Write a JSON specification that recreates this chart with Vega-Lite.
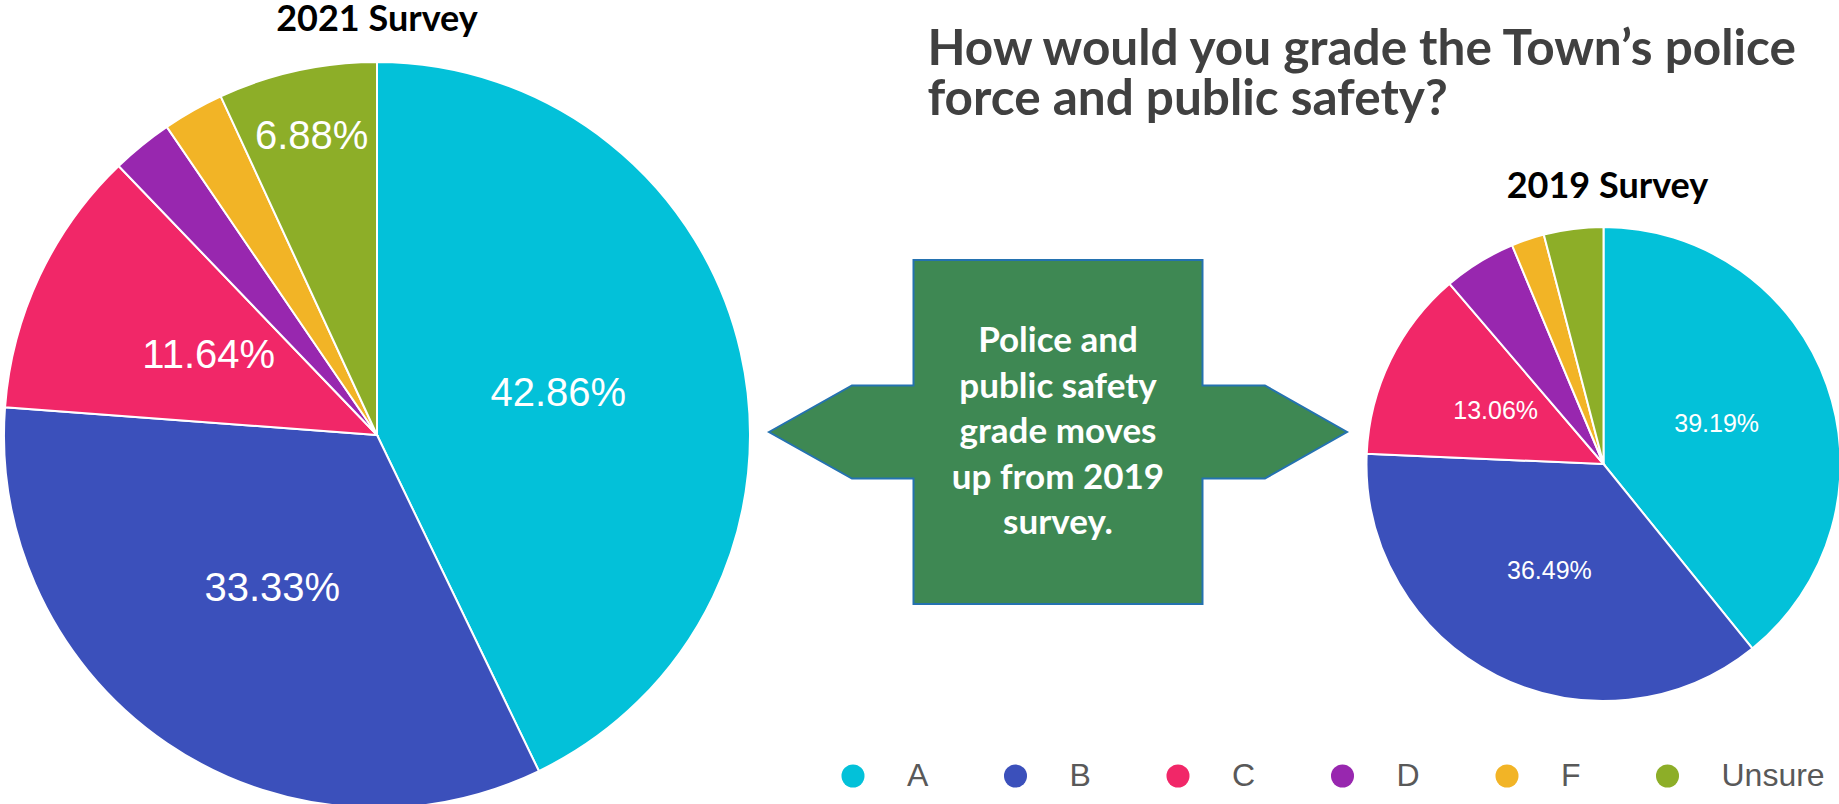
{
  "$schema": "https://vega.github.io/schema/vega-lite/v6.json",
  "padding": 0,
  "spacing": 0,
  "bounds": "full",
  "background": "white",
  "datasets": {
    "s2021": [
      {"grade": "A", "share": 0.4286},
      {"grade": "B", "share": 0.3333},
      {"grade": "C", "share": 0.1164},
      {"grade": "D", "share": 0.0265},
      {"grade": "F", "share": 0.0265},
      {"grade": "Unsure", "share": 0.0688}
    ],
    "s2019": [
      {"grade": "A", "share": 0.3919},
      {"grade": "B", "share": 0.3649},
      {"grade": "C", "share": 0.1306},
      {"grade": "D", "share": 0.0495},
      {"grade": "F", "share": 0.0225},
      {"grade": "Unsure", "share": 0.0405}
    ]
  },
  "config": {
    "view": {"stroke": null},
    "legend": {
      "symbolType": "circle",
      "symbolSize": 530,
      "symbolStrokeWidth": 0,
      "labelFontSize": 32,
      "labelFont": "Liberation Sans",
      "labelColor": "#595959",
      "labelOffset": 38,
      "columnPadding": 70.5,
      "padding": 0
    }
  },
  "hconcat": [
    {
      "spacing": 0,
      "bounds": "full",
      "vconcat": [
        {
          "width": 752,
          "height": 58,
          "data": {"values": [{"t": "2021 Survey"}]},
          "mark": {"type": "text", "font": "Lato", "fontWeight": "bold", "fontSize": 36, "baseline": "alphabetic", "align": "center", "dy": 2, "color": "#000000"},
          "encoding": {"text": {"field": "t"}}
        },
        {
          "width": 752,
          "height": 746,
          "data": {"name": "s2021"},
          "encoding": {
            "theta": {"field": "share", "type": "quantitative", "stack": true},
            "order": {"field": "grade", "sort": "ascending"}
          },
          "layer": [
            {
              "mark": {"type": "arc", "outerRadius": 373, "stroke": "white", "strokeWidth": 2},
              "encoding": {
                "color": {
                  "field": "grade", "type": "nominal",
                  "scale": {"domain": ["A", "B", "C", "D", "F", "Unsure"], "range": ["#03C1D9", "#3B50BB", "#F12768", "#9827AF", "#F2B426", "#8DAE28"]},
                  "legend": {"orient": "none", "legendX": 836, "legendY": 760, "direction": "horizontal", "columns": 6, "title": null}
                }
              }
            },
            {
              "mark": {"type": "text", "radius": 186, "font": "Liberation Sans", "fontSize": 40, "color": "white", "align": "center", "baseline": "middle"},
              "encoding": {
                "text": {"condition": {"test": "datum.share >= 0.1", "field": "share", "format": ".2%"}, "value": ""}
              }
            },
            {
              "mark": {"type": "text", "radius": 305, "font": "Liberation Sans", "fontSize": 40, "color": "white", "align": "center", "baseline": "middle"},
              "encoding": {
                "text": {"condition": {"test": "datum.share >= 0.05 && datum.share < 0.1", "field": "share", "format": ".2%"}, "value": ""}
              }
            }
          ]
        }
      ]
    },
    {
      "spacing": 0,
      "bounds": "full",
      "vconcat": [
        {
          "width": 1087,
          "height": 130,
          "data": {"values": [{"t": "How would you grade the Town’s police\nforce and public safety?"}]},
          "mark": {"type": "text", "font": "Lato", "fontWeight": "bold", "fontSize": 49.5, "lineHeight": 50, "lineBreak": "\n", "baseline": "alphabetic", "align": "left", "dx": -370, "color": "#404040"},
          "encoding": {"text": {"field": "t"}}
        },
        {
          "spacing": 0,
          "bounds": "full",
          "hconcat": [
            {
              "width": 608,
              "height": 604,
              "data": {"values": [{"msg": "Police and\npublic safety\ngrade moves\nup from 2019\nsurvey."}]},
              "layer": [
                {
                  "mark": {
                    "type": "point",
                    "shape": "M-1,0 L-0.713,-0.161 L-0.5,-0.161 L-0.5,-0.595 L0.5,-0.595 L0.5,-0.161 L0.716,-0.161 L1,0 L0.716,0.161 L0.5,0.161 L0.5,0.595 L-0.5,0.595 L-0.5,0.161 L-0.713,0.161 Z",
                    "size": 334084,
                    "filled": true,
                    "fill": "#3E8853",
                    "stroke": "#2472B0",
                    "strokeWidth": 2,
                    "opacity": 1
                  },
                  "encoding": {}
                },
                {
                  "mark": {"type": "text", "font": "Lato", "fontWeight": "bold", "fontSize": 35, "lineHeight": 45.5, "lineBreak": "\n", "baseline": "middle", "align": "center", "dy": -91, "color": "white"},
                  "encoding": {"text": {"field": "msg"}}
                }
              ]
            },
            {
              "spacing": 0,
              "bounds": "full",
              "vconcat": [
                {
                  "width": 479,
                  "height": 93,
                  "data": {"values": [{"t": "2019 Survey"}]},
                  "mark": {"type": "text", "font": "Lato", "fontWeight": "bold", "fontSize": 36, "baseline": "alphabetic", "align": "center", "dx": 4, "dy": 21.5, "color": "#000000"},
                  "encoding": {"text": {"field": "t"}}
                },
                {
                  "width": 479,
                  "height": 476,
                  "data": {"name": "s2019"},
                  "encoding": {
                    "theta": {"field": "share", "type": "quantitative", "stack": true},
                    "order": {"field": "grade", "sort": "ascending"}
                  },
                  "layer": [
                    {
                      "mark": {"type": "arc", "outerRadius": 237, "stroke": "white", "strokeWidth": 2},
                      "encoding": {
                        "color": {
                          "field": "grade", "type": "nominal",
                          "scale": {"domain": ["A", "B", "C", "D", "F", "Unsure"], "range": ["#03C1D9", "#3B50BB", "#F12768", "#9827AF", "#F2B426", "#8DAE28"]},
                          "legend": {"orient": "none", "legendX": 836, "legendY": 760, "direction": "horizontal", "columns": 6, "title": null}
                        }
                      }
                    },
                    {
                      "mark": {"type": "text", "radius": 120, "font": "Liberation Sans", "fontSize": 25, "color": "white", "align": "center", "baseline": "middle"},
                      "encoding": {
                        "text": {"condition": {"test": "datum.share >= 0.05", "field": "share", "format": ".2%"}, "value": ""}
                      }
                    }
                  ]
                }
              ]
            }
          ]
        }
      ]
    }
  ]
}
